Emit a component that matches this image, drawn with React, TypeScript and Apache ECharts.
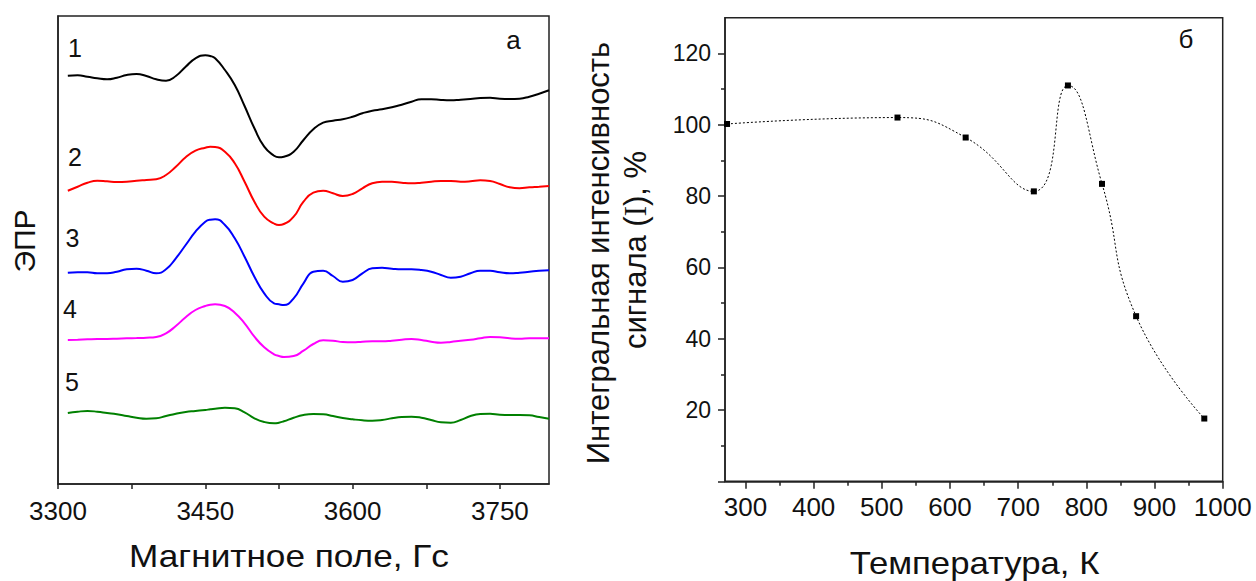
import React, { useEffect, useRef } from "react";
import * as echarts from "echarts";

// ---------- Panel "а": EPR spectra ----------
const field = [
  3310, 3320, 3330, 3340, 3350, 3360, 3370, 3380, 3390, 3400,
  3410, 3420, 3430, 3440, 3450, 3455, 3460, 3470, 3480, 3490, 3500,
  3510, 3520, 3525, 3530, 3540, 3550, 3560, 3570, 3580, 3590, 3600,
  3610, 3620, 3630, 3640, 3650, 3660, 3670, 3680, 3690, 3700,
  3710, 3720, 3730, 3740, 3750, 3760, 3770, 3780, 3790, 3800,
];

// vertical offsets (stacking) of each spectrum
const offsets = [408, 302, 211, 144, 71];

const spectrum1 = [
  0.3, 0.7, -0.7, -2.3, -3.3, -1.7, 1, 2, 0, -3.3,
  -4.7, 0, 9.3, 17.7, 20.7, 20.0, 17.7, 6, -9, -30, -52.3,
  -70.7, -79.7, -81.3, -80.7, -75.7, -64, -53.3, -46.7, -44.7, -43.3, -40.7,
  -37.3, -34.7, -33.3, -31.3, -28.7, -25.7, -23.3, -23.3, -24, -24.3,
  -23.7, -23, -22, -21.7, -22.7, -23, -22.7, -20.7, -17.7, -14.3,
];
const spectrum2 = [
  -8.7, -4.7, -0.7, 1.3, 0.7, 0, 0.3, 1.3, 2, 2.7,
  7, 15.3, 24.7, 31.3, 34.3, 35.3, 35, 30.3, 18.7, 0.3, -19.7,
  -34.7, -41.5, -43, -42, -34.7, -19.7, -10.7, -8.7, -11.3, -14, -12,
  -6.3, -1.3, 0.3, 0.3, -0.7, -1.3, -0.7, 0.3, 1, 1,
  0.3, 0.7, 1.7, 1, -2, -5.3, -6.3, -5.3, -4.7, -4,
];
const spectrum3 = [
  0.3, 0.7, 0.7, -0.3, -0.3, 1.3, 3.7, 4.3, 2.3, -0.3,
  3.7, 14.7, 28, 41.3, 51.3, 53.3, 53.7, 48, 34.7, 16.3, -3.7,
  -20.3, -30.3, -31.3, -32, -25.3, -10.3, 1.3, 2.3, -3, -8.7, -7,
  -0.3, 4.7, 5.3, 4.3, 3.7, 3.7, 3, 1.3, -2, -4.7,
  -3.7, -0.3, 2.3, 2.3, 0.7, -0.3, 0.3, 1.3, 2.3, 2.7,
];
const spectrum4 = [
  0, 0.3, 0.7, 1, 1, 1.3, 1.7, 2, 2.3, 3,
  6.7, 14, 22.7, 30, 34, 35.3, 35.7, 34, 27.3, 16.7, 3.3,
  -7.3, -14.3, -16, -17, -16, -10.7, -4, -0.3, -0.7, -2, -2.3,
  -1.7, -1.3, -1.3, -0.7, 0.3, 1, 0, -1.7, -2.7, -2,
  -0.7, 0.3, 1.7, 3, 2.7, 1.7, 1.3, 1.7, 1.7, 1.7,
];
const spectrum5 = [
  0, 1.3, 2, 1.3, 0, -1.3, -3, -4.7, -5.7, -5.3,
  -3, -0.7, 1, 2, 3, 3.7, 4.3, 5.3, 4.7, 0.7, -5.3,
  -9, -10.3, -9.7, -8.3, -4.7, -2, -1, -1.3, -3, -5, -6.3,
  -7.3, -7.7, -7, -5.3, -4, -3.7, -4.7, -7, -9.3, -9.7,
  -7, -3, -1, -0.7, -1.7, -2, -2, -2.3, -4, -5.7,
];
const spectra = [spectrum1, spectrum2, spectrum3, spectrum4, spectrum5];
const curveColors = ["#000000", "#ff0000", "#0000ff", "#ff00ff", "#008000"];
const curveLabels = ["1", "2", "3", "4", "5"];

const fieldTicks = [3300, 3375, 3450, 3525, 3600, 3675, 3750];
const fieldLabels = [3300, 3450, 3600, 3750];

// ---------- Panel "б": integral intensity vs temperature ----------
const temperature = [273, 523, 623, 723, 773, 823, 873, 973];
const intensity = [100.2, 102.0, 96.4, 81.3, 111.0, 83.4, 46.3, 17.6];

const tempTicks = [300, 400, 500, 600, 700, 800, 900, 1000];
const tempMinorTicks = [350, 450, 550, 650, 750, 850, 950];
const intensityTicks = [0, 20, 40, 60, 80, 100, 120];
const intensityLabels = [20, 40, 60, 80, 100, 120];
const intensityMinorTicks = [10, 30, 50, 70, 90, 110];

const FONT = "'Liberation Sans', Arial, sans-serif";
const AXIS = "#222";
const plain = (v: number) => String(v);

function buildOption(): any {
  const leftSeries = spectra.map((s, i) => ({
    type: "line",
    xAxisIndex: 0,
    yAxisIndex: 0,
    data: field.map((b, j) => [b, s[j] + offsets[i]]),
    smooth: true,
    showSymbol: false,
    silent: true,
    lineStyle: { color: curveColors[i], width: 2 },
  }));

  const curveLabelPos = [
    [75, 48],
    [75, 157],
    [72.5, 237.5],
    [70, 309],
    [72, 382],
  ];

  const txt = (
    text: string,
    x: number,
    y: number,
    size: number,
    rot = 0,
    scaleX = 1
  ) => ({
    type: "text",
    x,
    y,
    rotation: rot,
    scaleX,
    silent: true,
    style: {
      text,
      fill: "#111",
      font: `${size}px ${FONT}`,
      fontSize: size,
      fontFamily: FONT,
      align: "center",
      verticalAlign: "middle",
      textAlign: "center",
      textVerticalAlign: "middle",
    },
  });

  const tickLabel = (size: number, margin: number, values: number[]) => ({
    customValues: values,
    fontSize: size,
    fontFamily: FONT,
    color: "#111",
    margin,
    formatter: plain,
  });

  return {
    animation: false,
    backgroundColor: "#ffffff",
    grid: [
      {
        left: 58,
        top: 16,
        width: 491,
        height: 468,
        show: true,
        borderColor: AXIS,
        borderWidth: 1.5,
      },
      {
        left: 725,
        top: 17.7,
        width: 497.7,
        height: 463.6,
        show: true,
        borderColor: AXIS,
        borderWidth: 1.5,
      },
    ],
    xAxis: [
      {
        gridIndex: 0,
        type: "value",
        min: 3300,
        max: 3800,
        position: "bottom",
        axisLine: { show: true, onZero: false, lineStyle: { color: AXIS, width: 1.5 } },
        axisTick: { show: true, customValues: fieldTicks, length: 5, lineStyle: { color: AXIS, width: 1.5 } },
        axisLabel: tickLabel(26, 14, fieldLabels),
        splitLine: { show: false },
      },
      {
        gridIndex: 1,
        type: "value",
        min: 270,
        max: 1000,
        position: "bottom",
        axisLine: { show: true, onZero: false, lineStyle: { color: AXIS, width: 1.5 } },
        axisTick: { show: true, customValues: tempTicks, length: 7.5, lineStyle: { color: AXIS, width: 1.5 } },
        axisLabel: tickLabel(26, 13, tempTicks),
        splitLine: { show: false },
      },
      {
        gridIndex: 1,
        type: "value",
        min: 270,
        max: 1000,
        position: "bottom",
        axisLine: { show: false, onZero: false },
        axisTick: { show: true, customValues: tempMinorTicks, length: 4.5, lineStyle: { color: AXIS, width: 1.5 } },
        axisLabel: { show: false },
        splitLine: { show: false },
      },
    ],
    yAxis: [
      {
        gridIndex: 0,
        type: "value",
        min: 0,
        max: 468,
        axisLine: { show: true, onZero: false, lineStyle: { color: AXIS, width: 1.5 } },
        axisTick: { show: false },
        axisLabel: { show: false },
        splitLine: { show: false },
      },
      {
        gridIndex: 1,
        type: "value",
        min: 0,
        max: 130,
        position: "left",
        axisLine: { show: true, onZero: false, lineStyle: { color: AXIS, width: 1.5 } },
        axisTick: { show: true, customValues: intensityTicks, length: 7, lineStyle: { color: AXIS, width: 1.5 } },
        axisLabel: tickLabel(23, 14, intensityLabels),
        splitLine: { show: false },
      },
      {
        gridIndex: 1,
        type: "value",
        min: 0,
        max: 130,
        position: "left",
        axisLine: { show: false, onZero: false },
        axisTick: { show: true, customValues: intensityMinorTicks, length: 4, lineStyle: { color: AXIS, width: 1.5 } },
        axisLabel: { show: false },
        splitLine: { show: false },
      },
    ],
    series: [
      ...leftSeries,
      {
        type: "line",
        xAxisIndex: 1,
        yAxisIndex: 1,
        data: temperature.map((t, i) => [t, intensity[i]]),
        smooth: true,
        symbol: "rect",
        symbolSize: 6,
        silent: true,
        itemStyle: { color: "#000" },
        lineStyle: { color: "#000", width: 1, type: [2, 2] },
      },
    ],
    graphic: [
      ...curveLabels.map((l, i) => txt(l, curveLabelPos[i][0], curveLabelPos[i][1], 25)),
      txt("а", 513.5, 40, 26),
      txt("б", 1186, 38.5, 26),
      txt("ЭПР", 24, 241, 30, Math.PI / 2),
      txt("Магнитное поле, Гс", 289, 556, 32, 0, 1.1),
      txt("Температура, К", 974.5, 562.5, 32, 0, 1.085),
      txt("Интегральная интенсивность", 598, 253, 31, Math.PI / 2),
      {
        type: "text",
        x: 635,
        y: 250,
        rotation: Math.PI / 2,
        silent: true,
        style: {
          text: "{a|сигнала (}{b|I}{a|), %}",
          align: "center",
          verticalAlign: "middle",
          textAlign: "center",
          textVerticalAlign: "middle",
          rich: {
            a: { fontSize: 31, fontFamily: FONT, fill: "#111", color: "#111" },
            b: { fontSize: 31, fontFamily: "'Liberation Serif', 'Times New Roman', serif", fill: "#111", color: "#111" },
          },
        },
      },
    ],
  };
}

export default function App() {
  const ref = useRef<HTMLDivElement>(null);
  useEffect(() => {
    if (!ref.current) return;
    const chart = echarts.init(ref.current, null, { renderer: "svg" });
    chart.setOption(buildOption());
    return () => {
      chart.dispose();
    };
  }, []);
  return (
    <div
      ref={ref}
      style={{ position: "fixed", left: 0, top: 0, width: 1256, height: 581, background: "#fff" }}
    />
  );
}
